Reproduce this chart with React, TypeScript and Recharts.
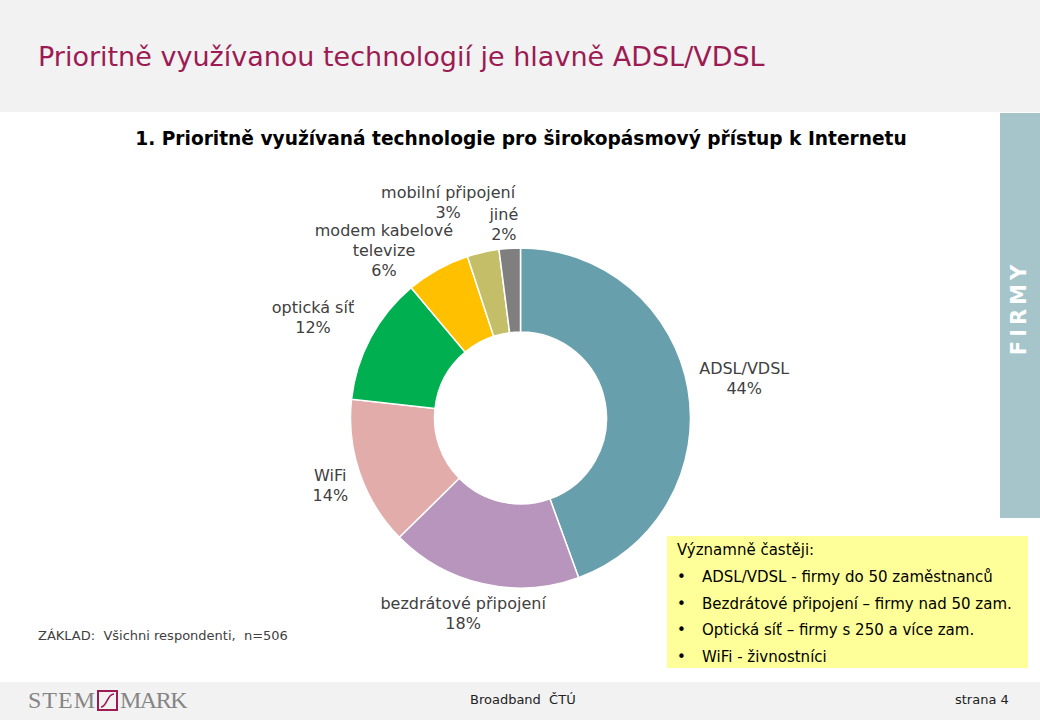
import React from 'react';
import { PieChart, Pie, Cell } from 'recharts';

const categories = [
  'ADSL/VDSL',
  'bezdrátové připojení',
  'WiFi',
  'optická síť',
  'modem kabelové televize',
  'mobilní připojení',
  'jiné',
];
const shares = [44, 18, 14, 12, 6, 3, 2];
const sliceColors = ['#689fad', '#b895bc', '#e1aca9', '#00b050', '#ffc000', '#c3be67', '#7f7f7f'];

const notes = [
  'ADSL/VDSL - firmy do 50 zaměstnanců',
  'Bezdrátové připojení – firmy nad 50 zam.',
  'Optická síť – firmy s 250 a více zam.',
  'WiFi - živnostníci',
];

const data = categories.map((name, i) => ({ name, value: shares[i] }));

// small per-label shifts (px) off the radial label point, like PowerPoint's best fit
const LABEL_NUDGE = [
  [12, -3],
  [-10, -15],
  [13, -3],
  [-18, 1],
  [-32, 20],
  [-25, -6],
  [-3, 21],
];

const RAD = Math.PI / 180;
const FONT = '"DejaVu Sans", Verdana, sans-serif';

// split a long category name into lines of at most `max` characters
const wrap = (s: string, max = 20) => {
  const out: string[] = [];
  let cur = '';
  s.split(' ').forEach((w) => {
    if (cur && (cur + ' ' + w).length > max) {
      out.push(cur);
      cur = w;
    } else {
      cur = cur ? cur + ' ' + w : w;
    }
  });
  if (cur) out.push(cur);
  return out;
};

const renderLabel = (p: any) => {
  const { cx, cy, midAngle, outerRadius, index } = p;
  const r = outerRadius + 45;
  const [nx, ny] = LABEL_NUDGE[index] || [0, 0];
  const x = cx + r * Math.cos(-midAngle * RAD) + nx;
  const y = cy + r * Math.sin(-midAngle * RAD) + ny;
  const lines = [...wrap(categories[index]), `${shares[index]}%`];
  const lh = 20;
  const y0 = y - ((lines.length - 1) * lh) / 2;
  return (
    <text
      x={x}
      y={y0}
      textAnchor="middle"
      dominantBaseline="central"
      fill="#404040"
      fontSize={16}
      fontFamily={FONT}
    >
      {lines.map((l, k) => (
        <tspan key={k} x={x} y={y0 + k * lh}>
          {l}
        </tspan>
      ))}
    </text>
  );
};

const Logo = () => (
  <div style={{ position: 'absolute', left: 28, top: 687, display: 'flex', alignItems: 'center', color: '#858585', fontFamily: '"Liberation Serif", serif', fontSize: 24 }}>
    <span style={{ letterSpacing: 1 }}>STEM</span>
    <svg width={21} height={21} style={{ margin: '0 2px 0 1px' }}>
      <rect x={1} y={1} width={19} height={19} fill="none" stroke="#9b1b52" strokeWidth={2} />
      <path d="M4 17 C 10 17, 10 4, 17 4" fill="none" stroke="#9b1b52" strokeWidth={1.6} />
    </svg>
    <span style={{ letterSpacing: -1.5 }}>MARK</span>
  </div>
);

export default function App() {
  return (
    <div style={{ position: 'relative', width: 1040, height: 720, background: '#fff', overflow: 'hidden', fontFamily: FONT }}>
      <style>{'body{margin:0}'}</style>

      {/* header band */}
      <div style={{ position: 'absolute', left: 0, top: 0, width: 1040, height: 112, background: '#f2f2f2' }} />
      <div style={{ position: 'absolute', left: 38, top: 41, fontSize: 27, color: '#9b1b52', whiteSpace: 'nowrap' }}>
        Prioritně využívanou technologií je hlavně ADSL/VDSL
      </div>

      {/* side tab */}
      <div style={{ position: 'absolute', left: 1000, top: 113, width: 40, height: 405, background: '#a5c5cb' }} />
      <div style={{ position: 'absolute', left: 1019, top: 308, transform: 'translate(-50%, -50%) rotate(-90deg)', color: '#fff', fontWeight: 'bold', fontSize: 21, letterSpacing: 4, whiteSpace: 'nowrap' }}>
        FIRMY
      </div>

      {/* chart title */}
      <div style={{ position: 'absolute', left: 0, width: 1042, top: 128, textAlign: 'center', fontWeight: 'bold', fontSize: 18.6, color: '#000', whiteSpace: 'nowrap' }}>
        1. Prioritně využívaná technologie pro širokopásmový přístup k Internetu
      </div>

      <div style={{ position: 'absolute', left: 0, top: 0 }}>
        <PieChart width={1040} height={720} margin={{ top: 0, right: 0, bottom: 0, left: 0 }}>
          <Pie
            data={data}
            dataKey="value"
            nameKey="name"
            cx={520.5}
            cy={418}
            innerRadius={86}
            outerRadius={170}
            startAngle={90}
            endAngle={-270}
            stroke="#fff"
            strokeWidth={1.5}
            label={renderLabel}
            labelLine={false}
            isAnimationActive={false}
          >
            {data.map((d, i) => (
              <Cell key={d.name} fill={sliceColors[i]} />
            ))}
          </Pie>
        </PieChart>
      </div>

      <div style={{ position: 'absolute', left: 38, top: 628, fontSize: 13, color: '#404040', whiteSpace: 'nowrap' }}>
        ZÁKLAD:&nbsp; Všichni respondenti,&nbsp; n=506
      </div>

      {/* note box */}
      <div style={{ position: 'absolute', left: 667, top: 536, width: 361, height: 132, background: '#ffff99', fontSize: 15, color: '#000', boxSizing: 'border-box', padding: '5px 0 0 10px' }}>
        <div style={{ height: 23 }}>Významně častěji:</div>
        {notes.map((n) => (
          <div key={n} style={{ height: 26.5, display: 'flex', alignItems: 'center', whiteSpace: 'nowrap' }}>
            <span style={{ width: 25 }}>•</span>
            <span>{n}</span>
          </div>
        ))}
      </div>

      {/* footer band */}
      <div style={{ position: 'absolute', left: 0, top: 682, width: 1040, height: 38, background: '#f2f2f2' }} />
      <Logo />
      <div style={{ position: 'absolute', left: 470, top: 692, fontSize: 13, color: '#222', whiteSpace: 'nowrap' }}>Broadband&nbsp; ČTÚ</div>
      <div style={{ position: 'absolute', left: 955, top: 692, fontSize: 13, color: '#222', whiteSpace: 'nowrap' }}>strana 4</div>
    </div>
  );
}
